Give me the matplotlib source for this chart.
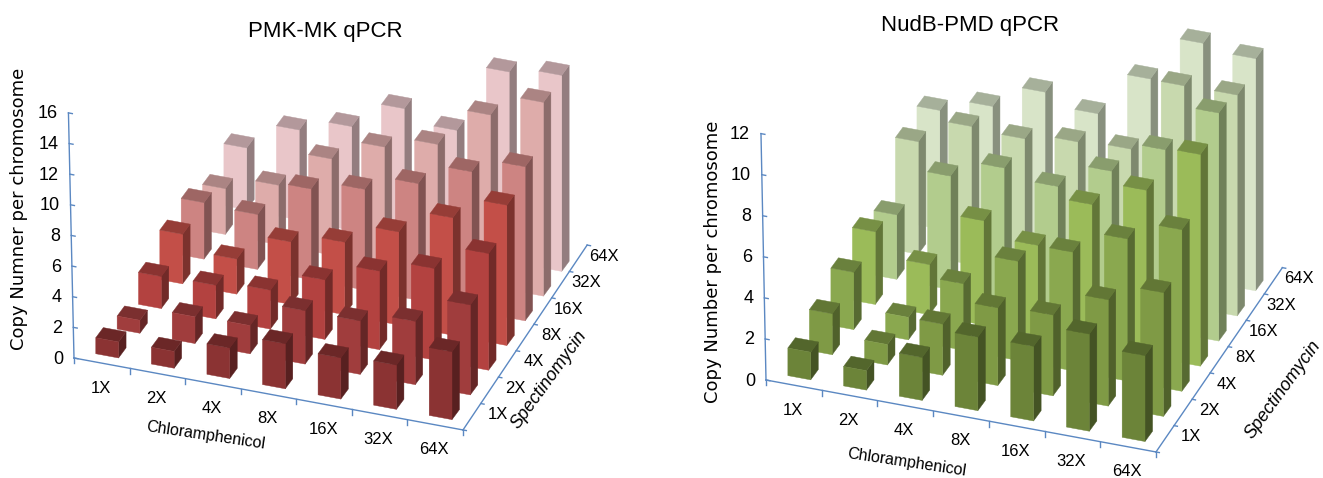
import matplotlib
matplotlib.use('Agg')
import matplotlib.pyplot as plt
from mpl_toolkits.mplot3d import proj3d

plt.rcParams['font.family'] = ['Liberation Sans', 'DejaVu Sans']

W, H = 1323, 478
doses = ['1X', '2X', '4X', '8X', '16X', '32X', '64X']

# copy number per chromosome, one list per spectinomycin level, chloramphenicol along each list
pmk_spec_1x = [1.05, 1.1, 2.0, 2.95, 2.7, 2.9, 4.45]
pmk_spec_2x = [0.85, 1.75, 1.85, 3.5, 3.5, 4.15, 5.9]
pmk_spec_4x = [2.1, 2.2, 2.55, 3.9, 5.15, 6.0, 7.65]
pmk_spec_8x = [3.25, 2.3, 4.1, 4.75, 6.1, 7.7, 9.2]
pmk_spec_16x = [3.7, 3.6, 5.95, 6.6, 7.65, 9.1, 10.1]
pmk_spec_32x = [3.0, 3.9, 6.3, 7.75, 8.6, 11.2, 12.7]
pmk_spec_64x = [4.05, 5.9, 6.8, 8.65, 7.9, 12.4, 12.85]

nud_spec_1x = [1.35, 0.95, 2.1, 3.6, 3.65, 4.75, 4.2]
nud_spec_2x = [2.0, 1.0, 2.5, 3.8, 3.95, 5.2, 6.05]
nud_spec_4x = [2.8, 1.1, 3.25, 4.85, 5.8, 6.95, 7.9]
nud_spec_8x = [3.55, 2.45, 5.1, 4.4, 6.9, 8.1, 10.35]
nud_spec_16x = [3.15, 5.55, 6.45, 6.05, 7.3, 8.85, 11.15]
nud_spec_32x = [5.5, 6.75, 6.65, 7.0, 7.15, 10.75, 10.8]
nud_spec_64x = [5.8, 6.5, 7.7, 7.15, 9.35, 11.6, 11.35]

pmk_rows = [pmk_spec_1x, pmk_spec_2x, pmk_spec_4x, pmk_spec_8x, pmk_spec_16x, pmk_spec_32x, pmk_spec_64x]
nud_rows = [nud_spec_1x, nud_spec_2x, nud_spec_4x, nud_spec_8x, nud_spec_16x, nud_spec_32x, nud_spec_64x]

pmk_colors = ['#8b3333', '#a03d3d', '#b34240', '#c34f48', '#cd8482', '#deacaa', '#e9c6c9']
nud_colors = ['#6c8439', '#7f9a45', '#8aa84f', '#9bbb59', '#b2cc8d', '#c8d9ae', '#d8e4c8']
axis_color = '#5b88c2'
bar_w = 0.41


def shade(color, k):
    r, g, b, a = matplotlib.colors.to_rgba(color)
    return (r * k, g * k, b * k, 1)


def to_pixels(ax, x, y, z):
    xs, ys, _ = proj3d.proj_transform(x, y, z, ax.get_proj())
    return ax.transData.transform((xs, ys))


def px_text(x, y, s, **kw):
    # x, y counted from the top left of the figure
    kw.setdefault('ha', 'center')
    kw.setdefault('va', 'center')
    fig.text(x / W, 1 - y / H, s, **kw)


def fit_axes(ax, origin_px, corner_px):
    # scale and slide the square axes until the floor corners land where wanted
    fig.canvas.draw()
    a = to_pixels(ax, 0, 0, 0)
    b = to_pixels(ax, 7, 0, 0)
    scale = (corner_px[0] - origin_px[0]) / (b[0] - a[0])
    pos = ax.get_position()
    side = pos.width * W * scale
    ax.set_position([pos.x0, pos.y0, side / W, side / H])
    fig.canvas.draw()
    a = to_pixels(ax, 0, 0, 0)
    pos = ax.get_position()
    dx = origin_px[0] - a[0]
    dy = (H - origin_px[1]) - a[1]
    ax.set_position([pos.x0 + dx / W, pos.y0 + dy / H, pos.width, pos.height])
    fig.canvas.draw()


def draw_panel(rect, rows, colors, zmax, zstep, elev, azim, aspect, origin_px, corner_px, z_lean, back_end):
    ax = fig.add_axes(rect, projection='3d', proj_type='ortho', computed_zorder=False)
    ax.set_xlim(0, 7)
    ax.set_ylim(0, 7)
    ax.set_zlim(0, zmax)
    ax.set_box_aspect(aspect)
    ax.view_init(elev=elev, azim=azim)
    ax.set_axis_off()
    fit_axes(ax, origin_px, corner_px)

    # axis lines and ticks, the two far ends lean a little like the drawn perspective
    line = dict(color=axis_color, lw=1.0, zorder=1)
    ax.plot([0, z_lean], [0, 0], [0, zmax], **line)
    ax.plot([0, 7], [0, 0], [0, 0], **line)
    ax.plot([7, back_end[0]], [0, back_end[1]], [0, 0], **line)
    for t in range(0, zmax + 1, zstep):
        tx = z_lean * t / zmax
        ax.plot([tx, tx + 0.07], [0, 0], [t, t], **line)
        px, py = to_pixels(ax, tx, 0, t)
        px_text(px - 11, H - py + 1, str(t), fontsize=13, ha='right')
    for i in range(8):
        yx = 7 + (back_end[0] - 7) * i / 7
        yy = back_end[1] * i / 7
        ax.plot([i, i], [0, 0], [0, -zmax * 0.022], **line)
        ax.plot([yx, yx + 0.06], [yy, yy], [0, 0], **line)
    for i, lab in enumerate(doses):
        px, py = to_pixels(ax, i + 0.5, 0, 0)
        px_text(px - 1, H - py + 25, lab, fontsize=12)
        yx = 7 + (back_end[0] - 7) * (i + 0.5) / 7
        yy = back_end[1] * (i + 0.5) / 7
        px, py = to_pixels(ax, yx, yy, 0)
        px_text(px + 26, H - py - 2, lab, fontsize=12)

    # back row first, left to right, so nearer bars cover farther ones
    order = 10
    for j in reversed(range(7)):
        front = colors[j]
        none = (0, 0, 0, 0)
        # bar3d face order: bottom, top, -y, +y, -x, +x
        faces = [none, shade(front, 0.77), front, none, none, shade(front, 0.63)]
        for i in range(7):
            # far rows close up towards the right, as under perspective
            dx = (0.0486 - 0.0081 * i) * j
            dy = 0.417 * dx
            poly = ax.bar3d(i + 0.5 - bar_w / 2 + dx, j + 0.5 - bar_w / 2 + dy, 0, bar_w, bar_w, rows[j][i],
                            color=faces, shade=False, edgecolor=faces, linewidth=0.3)
            poly.set_zorder(order)
            order += 1
    return ax


fig = plt.figure(figsize=(W / 100, H / 100), dpi=100)

draw_panel([0.0, 0.0, 0.5, 0.9], pmk_rows, pmk_colors, 16, 2, 30.0, -69.7, (415, 369, 282),
           (74, 358), (463, 430), -0.1, (6.8, 7.4))
draw_panel([0.5, 0.0, 0.5, 0.9], nud_rows, nud_colors, 12, 2, 30.1, -69.8, (416, 374, 284),
           (766, 380), (1156, 452), -0.09, (6.86, 7.28))

px_text(325, 32, 'PMK-MK qPCR', fontsize=16)
px_text(970, 25, 'NudB-PMD qPCR', fontsize=16)
px_text(19, 209, 'Copy Numner per chromosome', fontsize=13, rotation=90, family='DejaVu Sans')
px_text(713, 262, 'Copy Number per chromosome', fontsize=13, rotation=90, family='DejaVu Sans')
px_text(206, 435, 'Chloramphenicol', fontsize=11.5, rotation=-8.5)
px_text(907, 462, 'Chloramphenicol', fontsize=11.5, rotation=-8.5)
px_text(549, 380, 'Spectinomycin', fontsize=13, rotation=54, style='italic')
px_text(1283, 390, 'Spectinomycin', fontsize=13, rotation=54, style='italic')

fig.savefig('out.png', dpi=100)
